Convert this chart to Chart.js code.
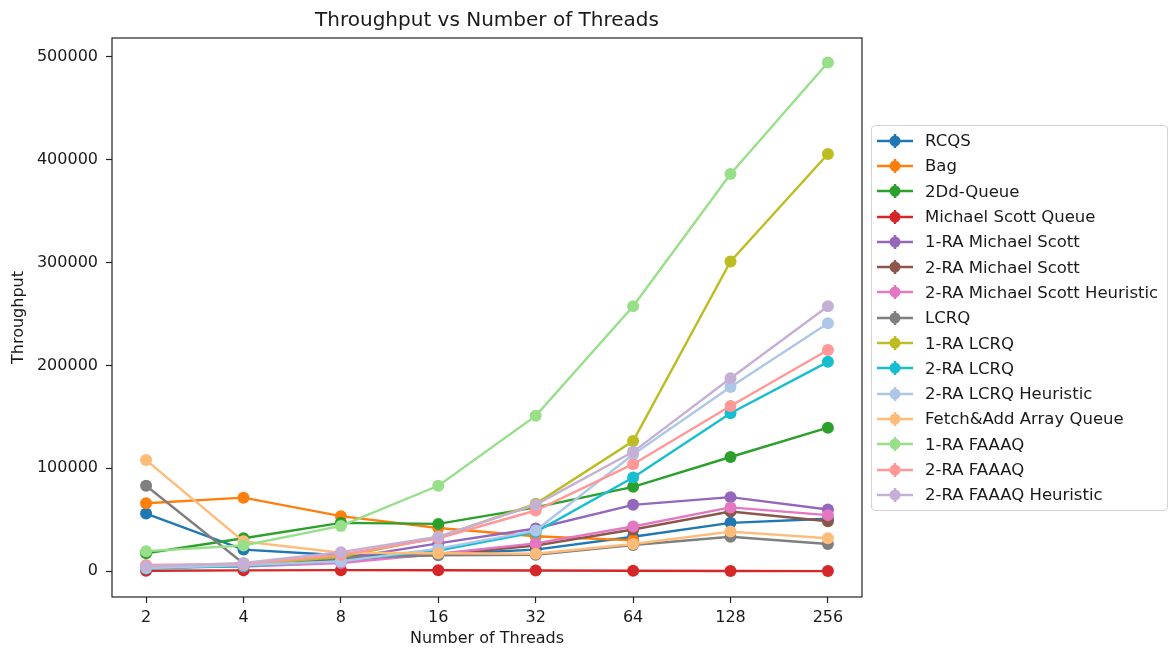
<!DOCTYPE html>
<html>
<head>
<meta charset="utf-8">
<title>Throughput vs Number of Threads</title>
<script src="https://cdn.jsdelivr.net/npm/chart.js@4.4.0/dist/chart.umd.min.js"></script>
<style>
  html, body { margin: 0; padding: 0; background: #fff; }
  #wrap { position: relative; width: 1174px; height: 648px; }
  #legend {
    position: absolute; left: 871px; top: 125px; width: 297px; height: 386px;
    box-sizing: border-box; border: 1px solid #d4d4d4; border-radius: 4px;
    padding-top: 2px; background: #fff;
    font-family: "DejaVu Sans", sans-serif; font-size: 16.5px; color: #1a1a1a;
  }
  .item { display: flex; align-items: center; height: 25.3px; }
  .item canvas { margin-left: 5px; }
  .item span { margin-left: 12px; white-space: nowrap; }
</style>
</head>
<body>
<div id="wrap">
  <canvas id="throughputChart" width="1174" height="648"></canvas>
  <div id="legend"></div>
</div>
<script>
// x categories (thread counts) and y ticks
const threadCounts = ['2', '4', '8', '16', '32', '64', '128', '256'];
const yTicks = [0, 100000, 200000, 300000, 400000, 500000];

// throughput per queue, one value per thread count
const rcqs      = [56000, 21000, 15500, 16500, 21000, 33500, 47000, 51000];
const bag       = [66000, 71500, 53500, 42000, 34000, 30000, null, null];
const twoDd     = [17500, 32000, 47000, 46000, 62000, 82000, 111000, 139500];
const msQueue   = [500, 800, 1000, 900, 700, 500, 200, 100];
const ra1Ms     = [3000, 5500, 12000, 27000, 41500, 64500, 72000, 60000];
const ra2Ms     = [3500, 5000, 11000, 16000, 25000, 40500, 58000, 48500];
const ra2MsHeur = [4500, 4500, 8000, 17000, 27000, 43500, 62000, 54500];
const lcrq      = [83000, 7500, 13000, 15500, 16000, 25500, 33500, 26500];
const ra1Lcrq   = [5000, 6500, 14000, 33000, 65500, 126500, 301000, 405500];
const ra2Lcrq   = [2500, 5000, 10000, 20000, 38000, 91000, 153500, 203500];
const ra2LcrqHeur = [3000, 6000, 9500, 22000, 39500, 113500, 179000, 241000];
const faaQueue  = [108000, 29000, 18000, 17500, 17000, 26500, 38500, 32000];
const ra1Faaaq  = [19500, 25000, 44000, 83000, 151000, 257500, 386000, 494500];
const ra2Faaaq  = [6000, 7000, 16000, 32000, 59000, 104000, 160500, 215000];
const ra2FaaaqHeur = [4500, 8000, 18500, 33500, 64500, 116000, 187500, 257500];

const seriesNames = [
  'RCQS', 'Bag', '2Dd-Queue', 'Michael Scott Queue', '1-RA Michael Scott',
  '2-RA Michael Scott', '2-RA Michael Scott Heuristic', 'LCRQ', '1-RA LCRQ',
  '2-RA LCRQ', '2-RA LCRQ Heuristic', 'Fetch&Add Array Queue', '1-RA FAAAQ',
  '2-RA FAAAQ', '2-RA FAAAQ Heuristic'
];
const seriesValues = [
  rcqs, bag, twoDd, msQueue, ra1Ms, ra2Ms, ra2MsHeur, lcrq, ra1Lcrq,
  ra2Lcrq, ra2LcrqHeur, faaQueue, ra1Faaaq, ra2Faaaq, ra2FaaaqHeur
];
const seriesColors = [
  '#1f77b4', '#ff7f0e', '#2ca02c', '#d62728', '#9467bd', '#8c564b', '#e377c2',
  '#7f7f7f', '#bcbd22', '#17becf', '#aec7e8', '#ffbb78', '#98df8a', '#ff9896', '#c5b0d5'
];

const FONT = '"DejaVu Sans", sans-serif';
const TEXT = '#1a1a1a';
const AXIS = '#222';

// later series sit on top, like the plotting order
const datasets = seriesNames.map((name, i) => ({
  label: name,
  data: seriesValues[i].map((v, j) => ({ x: j, y: v })),
  borderColor: seriesColors[i],
  backgroundColor: seriesColors[i],
  pointBackgroundColor: seriesColors[i],
  pointBorderWidth: 0,
  pointRadius: 6,
  borderWidth: 2.4,
  spanGaps: false,
  order: seriesNames.length - i
}));

// box around the plot area (all four spines)
const frame = {
  id: 'frame',
  afterDraw(chart) {
    const { ctx, chartArea: a } = chart;
    ctx.save();
    ctx.strokeStyle = AXIS;
    ctx.lineWidth = 1.2;
    ctx.strokeRect(a.left, a.top, a.right - a.left, a.bottom - a.top);
    ctx.restore();
  }
};

const chart = new Chart(document.getElementById('throughputChart'), {
  type: 'line',
  data: { datasets },
  plugins: [frame],
  options: {
    responsive: false,
    animation: false,
    layout: { padding: { left: 0, top: 0, right: 312, bottom: 0 } },
    plugins: {
      legend: { display: false },
      tooltip: { enabled: false },
      title: {
        display: true,
        text: 'Throughput vs Number of Threads',
        fullSize: false,
        color: TEXT,
        font: { family: FONT, size: 20, weight: 'normal' },
        padding: { top: 9, bottom: 5 }
      }
    },
    scales: {
      x: {
        type: 'linear',
        min: -0.35,
        max: 7.35,
        afterFit(scale) { scale.height = 51; },
        afterBuildTicks(scale) { scale.ticks = threadCounts.map((_, i) => ({ value: i })); },
        grid: { drawOnChartArea: false, drawTicks: true, tickLength: 6, tickColor: AXIS, tickWidth: 1.2 },
        border: { display: false },
        ticks: {
          autoSkip: false, maxRotation: 0, padding: 5, color: TEXT,
          font: { family: FONT, size: 16 },
          callback: v => threadCounts[v]
        },
        title: {
          display: true, text: 'Number of Threads', color: TEXT,
          font: { family: FONT, size: 16 }, padding: { top: 2, bottom: 0 }
        }
      },
      y: {
        min: -25078,
        max: 518274,
        afterFit(scale) { scale.width = 112; },
        afterBuildTicks(scale) { scale.ticks = yTicks.map(v => ({ value: v })); },
        grid: { drawOnChartArea: false, drawTicks: true, tickLength: 6, tickColor: AXIS, tickWidth: 1.2 },
        border: { display: false },
        ticks: {
          padding: 8, color: TEXT,
          font: { family: FONT, size: 16 },
          callback: v => String(v)
        },
        title: {
          display: true, text: 'Throughput', color: TEXT,
          font: { family: FONT, size: 16 }, padding: { top: 9, bottom: 0 }
        }
      }
    }
  }
});

// legend: line + marker + error-bar cap, as in an errorbar plot
function buildLegend() {
  const box = document.getElementById('legend');
  chart.data.datasets.forEach(ds => {
    const row = document.createElement('div');
    row.className = 'item';
    const icon = document.createElement('canvas');
    icon.width = 36;
    icon.height = 18;
    const c = icon.getContext('2d');
    c.strokeStyle = ds.borderColor;
    c.fillStyle = ds.borderColor;
    c.lineWidth = 2.5;
    c.beginPath();
    c.moveTo(0, 9); c.lineTo(36, 9);
    c.moveTo(18, 2); c.lineTo(18, 16);
    c.stroke();
    c.beginPath();
    c.arc(18, 9, 5.5, 0, Math.PI * 2);
    c.fill();
    const label = document.createElement('span');
    label.textContent = ds.label;
    row.appendChild(icon);
    row.appendChild(label);
    box.appendChild(row);
  });
}
buildLegend();
</script>
</body>
</html>
